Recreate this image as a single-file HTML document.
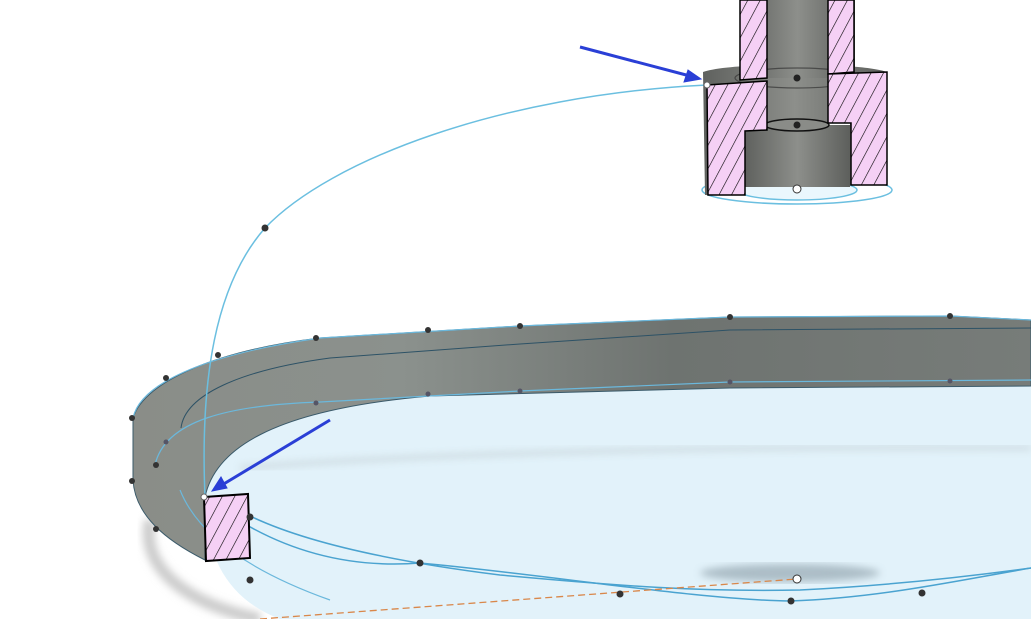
<!DOCTYPE html>
<html><head><meta charset="utf-8"><style>html,body{margin:0;padding:0;background:#fff;width:1031px;height:619px;overflow:hidden}</style></head>
<body>
<svg width="1031" height="619" viewBox="0 0 1031 619" xmlns="http://www.w3.org/2000/svg">
<defs>
<pattern id="h" patternUnits="userSpaceOnUse" width="11" height="11" patternTransform="rotate(28)">
<rect width="11" height="11" fill="#f5d0f5"/><line x1="0" y1="0" x2="0" y2="11" stroke="#000" stroke-width="1.2"/>
</pattern>
<linearGradient id="g1" x1="0" x2="1" y1="0" y2="0">
<stop offset="0" stop-color="#8a8d88"/><stop offset="0.3" stop-color="#8b918d"/><stop offset="0.6" stop-color="#6e7370"/><stop offset="1" stop-color="#777c79"/>
</linearGradient>
<linearGradient id="gs" x1="0" x2="1" y1="0" y2="0">
<stop offset="0" stop-color="#5f615e"/><stop offset="0.5" stop-color="#8d8f8b"/><stop offset="1" stop-color="#5d5f5c"/>
</linearGradient>
<filter id="bl"><feGaussianBlur stdDeviation="4"/></filter>
</defs>
<path d="M150,520 C140,570 190,605 260,619" fill="none" stroke="#ccc" stroke-width="12" filter="url(#bl)"/>
<path d="M205,497 C215,450 270,410 430,396 L730,388 L1031,386 L1031,619 L280,619 C230,600 205,560 205,497 Z" fill="#e2f2fa"/>
<path d="M240,468 C400,455 700,445 1031,448" fill="none" stroke="#b8c2c6" stroke-width="3" filter="url(#bl)" opacity="0.8"/>
<ellipse cx="790" cy="573" rx="90" ry="9" fill="#9fb0ba" filter="url(#bl)" opacity="0.8"/>
<path d="M133,418 C145,380 220,350 320,338 L520,326 L730,317 L950,316 L1031,320 L1031,386 L730,388 L430,396 C270,410 215,450 205,497 L205,560 C165,540 135,515 133,480 Z" fill="url(#g1)" stroke="#3a5a6a" stroke-width="1"/>
<path d="M181,428 C185,395 240,370 330,358 L520,344 L730,330 L1031,328" fill="none" stroke="#2d5266" stroke-width="1"/>
<path d="M133,418 C140,385 200,355 320,338 L520,326 L730,317 L950,316 L1031,320" fill="none" stroke="#6bb8dc" stroke-width="1.2"/>
<path d="M155,465 C165,420 230,405 320,402 L520,391 L730,382 L1031,380" fill="none" stroke="#6bb8dc" stroke-width="1.2"/>
<path d="M205,497 C260,540 330,570 420,563 C550,575 700,600 790,601 C880,598 960,580 1031,568" fill="none" stroke="#4aa3d0" stroke-width="1.5"/>
<path d="M250,516 C300,540 380,560 500,575 C620,586 700,592 800,590 C900,585 980,575 1031,568" fill="none" stroke="#4aa3d0" stroke-width="1.5"/>
<path d="M180,490 C200,540 260,575 330,600" fill="none" stroke="#6bb8dc" stroke-width="1.2"/>
<line x1="260" y1="619" x2="797" y2="579" stroke="#d9874a" stroke-width="1.3" stroke-dasharray="7,4"/>
<circle cx="797" cy="579" r="4" fill="#fff" stroke="#333"/>
<polygon points="204,497 248,494 250,558 206,561" fill="url(#h)" stroke="#000" stroke-width="2"/>
<path d="M707,85 C500,95 330,160 265,228 C215,285 200,380 205,497" fill="none" stroke="#6bbfe0" stroke-width="1.5"/>
<g fill="#333">
<circle cx="265" cy="228" r="3.5"/><circle cx="218" cy="355" r="3"/><circle cx="316" cy="338" r="3"/><circle cx="428" cy="330" r="3"/><circle cx="520" cy="326" r="3"/><circle cx="730" cy="317" r="3"/><circle cx="950" cy="316" r="3"/><circle cx="166" cy="378" r="3"/><circle cx="132" cy="418" r="3"/><circle cx="156" cy="465" r="3"/><circle cx="132" cy="481" r="3"/><circle cx="156" cy="529" r="3"/><circle cx="250" cy="517" r="3.5"/><circle cx="250" cy="580" r="3.5"/><circle cx="420" cy="563" r="3.5"/><circle cx="620" cy="594" r="3.5"/><circle cx="791" cy="601" r="3.5"/><circle cx="922" cy="593" r="3.5"/>
</g>
<g fill="#556"><circle cx="316" cy="403" r="2.5"/><circle cx="428" cy="394" r="2.5"/><circle cx="520" cy="391" r="2.5"/><circle cx="730" cy="382" r="2.5"/><circle cx="950" cy="381" r="2.5"/><circle cx="166" cy="442" r="2.5"/></g>
<circle cx="204" cy="497" r="3" fill="#fff" stroke="#666"/>
<ellipse cx="797" cy="190" rx="95" ry="14" fill="none" stroke="#6bbfe0" stroke-width="1.5"/>
<ellipse cx="797" cy="190" rx="60" ry="10" fill="#eaf7fd" stroke="#6bbfe0" stroke-width="1.5"/>
<path d="M703,72 C730,62 860,62 887,72 L887,185 L850,185 L850,123 L745,125 L745,195 L705,195 Z" fill="url(#gs)"/>
<rect x="745" y="125" width="105" height="62" fill="url(#gs)"/>
<ellipse cx="797" cy="125" rx="32" ry="6" fill="#8a8c88" stroke="#111" stroke-width="1.5"/>
<rect x="740" y="0" width="115" height="78" fill="url(#gs)"/>
<ellipse cx="797" cy="78" rx="62" ry="10" fill="none" stroke="#333" stroke-width="1.2" opacity="0.7"/>
<polygon points="740,0 767,0 767,78 740,80" fill="url(#h)" stroke="#000" stroke-width="1.5"/>
<polygon points="828,0 854,0 854,72 828,74" fill="url(#h)" stroke="#000" stroke-width="1.5"/>
<polygon points="707,85 767,81 767,130 745,131 745,195 708,195" fill="url(#h)" stroke="#000" stroke-width="1.5"/>
<polygon points="828,74 887,72 887,185 851,185 851,123 828,123" fill="url(#h)" stroke="#000" stroke-width="1.5"/>
<circle cx="797" cy="78" r="3.5" fill="#222"/><circle cx="797" cy="125" r="3.5" fill="#222"/>
<circle cx="797" cy="189" r="4" fill="#fff" stroke="#333"/>
<circle cx="707" cy="85" r="3" fill="#fff" stroke="#666"/>
<g stroke="#2a3fd6" stroke-width="3" fill="#2a3fd6">
<line x1="580" y1="47" x2="690" y2="76"/>
<polygon points="701,79 684,82 688,70" stroke-width="1"/>
<line x1="330" y1="420" x2="222" y2="485"/>
<polygon points="212,491 221,477 227,488" stroke-width="1"/>
</g>
</svg>
</body></html>
